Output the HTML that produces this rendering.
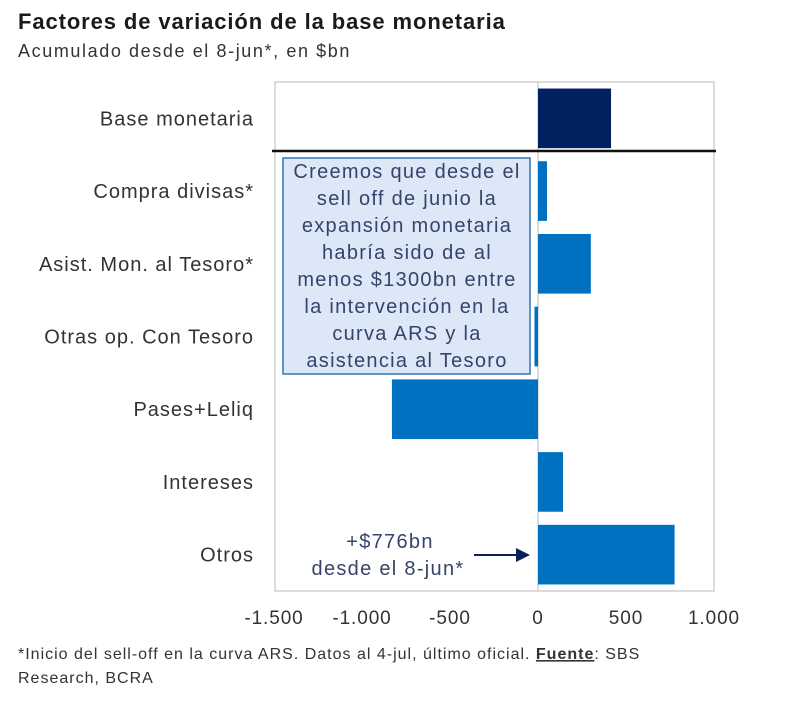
<!DOCTYPE html>
<html><head><meta charset="utf-8"><style>
body{margin:0;background:#fff;width:800px;height:723px;overflow:hidden;font-family:"Liberation Sans",sans-serif}
</style></head><body>
<svg width="800" height="723" id="c" xmlns="http://www.w3.org/2000/svg">
<text x="18" y="29" font-size="22" font-weight="bold" letter-spacing="0.9" fill="#1a1a1a">Factores de variación de la base monetaria</text>
<text x="18" y="57" font-size="18" letter-spacing="1.6" fill="#333">Acumulado desde el 8-jun*, en $bn</text>
<rect x="275" y="82" width="439" height="509" fill="none" stroke="#d0d0d0" stroke-width="1.5"/>
<g id="bars"></g>
<line x1="272" y1="151" x2="716" y2="151" stroke="#111" stroke-width="2.5"/>
<rect x="283" y="158" width="247" height="216" fill="#dce8f7" stroke="#2e75b6" stroke-width="1.5"/>
<g font-size="20" letter-spacing="1.3" fill="#36436a" text-anchor="middle">
<text x="407" y="178">Creemos que desde el</text>
<text x="407" y="205">sell off de junio la</text>
<text x="407" y="232">expansión monetaria</text>
<text x="407" y="259">habría sido de al</text>
<text x="407" y="286">menos $1300bn entre</text>
<text x="407" y="313">la intervención en la</text>
<text x="407" y="340">curva ARS y la</text>
<text x="407" y="367">asistencia al Tesoro</text>
</g>
<g font-size="20" letter-spacing="1.3" fill="#36436a" text-anchor="middle">
<text x="390" y="548">+$776bn</text>
<text x="388" y="575">desde el 8-jun*</text>
</g>
<line x1="474" y1="555" x2="518" y2="555" stroke="#0a1f5c" stroke-width="2"/>
<polygon points="530,555 516,548 516,562" fill="#0a1f5c"/>
<g id="ticks"></g>
<text x="18" y="659" font-size="16" letter-spacing="1" fill="#333">*Inicio del sell-off en la curva ARS. Datos al 4-jul, último oficial.  <tspan font-weight="bold" text-decoration="underline">Fuente</tspan>: SBS</text>
<text x="18" y="683" font-size="16" letter-spacing="1" fill="#333">Research, BCRA</text>
</svg>
<script>
const categories=["Base monetaria","Compra divisas*","Asist. Mon. al Tesoro*","Otras op. Con Tesoro","Pases+Leliq","Intereses","Otros"];
const values=[415,51,300,-20,-830,142,776];
const tickValues=[-1500,-1000,-500,0,500,1000];
const tickLabels=["-1.500","-1.000","-500","0","500","1.000"];
const NS="http://www.w3.org/2000/svg";
const x=v=>538+v*0.176;
const top0=82,band=509/7;
const y=i=>top0+i*band;
const bg=document.getElementById('bars'),tg=document.getElementById('ticks');
const zl=document.createElementNS(NS,'line');
zl.setAttribute('x1',x(0));zl.setAttribute('x2',x(0));zl.setAttribute('y1',82);zl.setAttribute('y2',591);
zl.setAttribute('stroke','#d0d0d0');zl.setAttribute('stroke-width','1.5');


bg.appendChild(zl);
categories.forEach((c,i)=>{
 const v=values[i];
 const r=document.createElementNS(NS,'rect');
 r.setAttribute('x',Math.min(x(0),x(v)));r.setAttribute('width',Math.abs(x(v)-x(0)));
 r.setAttribute('y',y(i)+band*0.09);r.setAttribute('height',band*0.82);
 r.setAttribute('fill',i===0?'#002060':'#0070c0');
 
 
 bg.appendChild(r);
 const t=document.createElementNS(NS,'text');
 t.setAttribute('x',254);t.setAttribute('y',y(i)+band/2+7);
 t.setAttribute('text-anchor','end');t.setAttribute('font-size','20');t.setAttribute('letter-spacing','1');t.setAttribute('fill','#333');
 t.textContent=c;
 
 
 tg.appendChild(t);
});
tickValues.forEach((v,i)=>{
 const t=document.createElementNS(NS,'text');
 t.setAttribute('x',x(v));t.setAttribute('y',624);
 t.setAttribute('text-anchor','middle');t.setAttribute('font-size','19');t.setAttribute('letter-spacing','0.9');t.setAttribute('fill','#333');
 t.textContent=tickLabels[i];
 
 
 tg.appendChild(t);
});
</script>
</body></html>
